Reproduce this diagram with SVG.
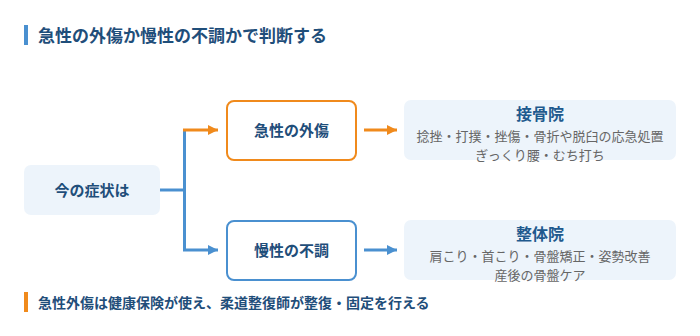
<svg xmlns="http://www.w3.org/2000/svg" width="700" height="336" viewBox="0 0 700 336">
<defs>
<style>
text{font-family:"Noto Sans CJK JP","Noto Sans",sans-serif;}
.h{font-size:17px;font-weight:700;fill:#1f4e7a;}
.n{font-size:15px;font-weight:700;fill:#1f4e7a;text-anchor:middle;}
.t{font-size:16px;font-weight:700;fill:#1f5a8e;text-anchor:middle;}
.d{font-size:13px;fill:#666;text-anchor:middle;}
.note{font-size:14px;font-weight:700;fill:#1f4e7a;}
.soft{fill:#edf4fb;}
.o{stroke:#f08a1c;}
.b{stroke:#4a90d0;}
.line{fill:none;stroke-width:3;}
</style>
<marker id="ao" viewBox="0 0 10 10" refX="10" refY="5" markerWidth="10" markerHeight="10" markerUnits="userSpaceOnUse" orient="auto"><path d="M0,0L10,5L0,10z" fill="#f08a1c"/></marker>
<marker id="ab" viewBox="0 0 10 10" refX="10" refY="5" markerWidth="10" markerHeight="10" markerUnits="userSpaceOnUse" orient="auto"><path d="M0,0L10,5L0,10z" fill="#4a90d0"/></marker>
</defs>
<rect width="700" height="336" fill="#fff"/>
<g id="title">
<rect x="24" y="25" width="4" height="20" fill="#4a90d0"/>
<text class="h" x="38" y="41.5">急性の外傷か慢性の不調かで判断する</text>
</g>
<g id="connectors">
<path class="line b" d="M160,190H184.5"/>
<path class="line b" d="M184.5,130V250"/>
<path class="line o" d="M183,130H218" marker-end="url(#ao)"/>
<path class="line b" d="M183,250H218" marker-end="url(#ab)"/>
<path class="line o" d="M364,130H397" marker-end="url(#ao)"/>
<path class="line b" d="M364,250H397" marker-end="url(#ab)"/>
</g>
<g id="now">
<rect class="soft" x="24" y="165" width="136" height="50" rx="7"/>
<text class="n" x="92" y="195.7">今の症状は</text>
</g>
<g id="acute">
<rect x="227" y="101" width="129" height="59" rx="7" fill="#fff" stroke="#f08a1c" stroke-width="2"/>
<text class="n" x="291.5" y="135.7">急性の外傷</text>
</g>
<g id="chronic">
<rect x="227" y="221" width="129" height="59" rx="7" fill="#fff" stroke="#4a90d0" stroke-width="2"/>
<text class="n" x="291.5" y="255.7">慢性の不調</text>
</g>
<g id="sekkotsu">
<rect class="soft" x="404" y="100" width="272" height="60" rx="7"/>
<text class="t" x="540" y="119.5">接骨院</text>
<text class="d" x="540" y="140.5">捻挫・打撲・挫傷・骨折や脱臼の応急処置</text>
<text class="d" x="540" y="160">ぎっくり腰・むち打ち</text>
</g>
<g id="seitai">
<rect class="soft" x="404" y="220" width="272" height="60" rx="7"/>
<text class="t" x="540" y="239.5">整体院</text>
<text class="d" x="540" y="260.5">肩こり・首こり・骨盤矯正・姿勢改善</text>
<text class="d" x="540" y="280">産後の骨盤ケア</text>
</g>
<g id="note">
<rect x="24" y="292" width="4" height="20" fill="#f08a1c"/>
<text class="note" x="38" y="308">急性外傷は健康保険が使え、柔道整復師が整復・固定を行える</text>
</g>
</svg>
